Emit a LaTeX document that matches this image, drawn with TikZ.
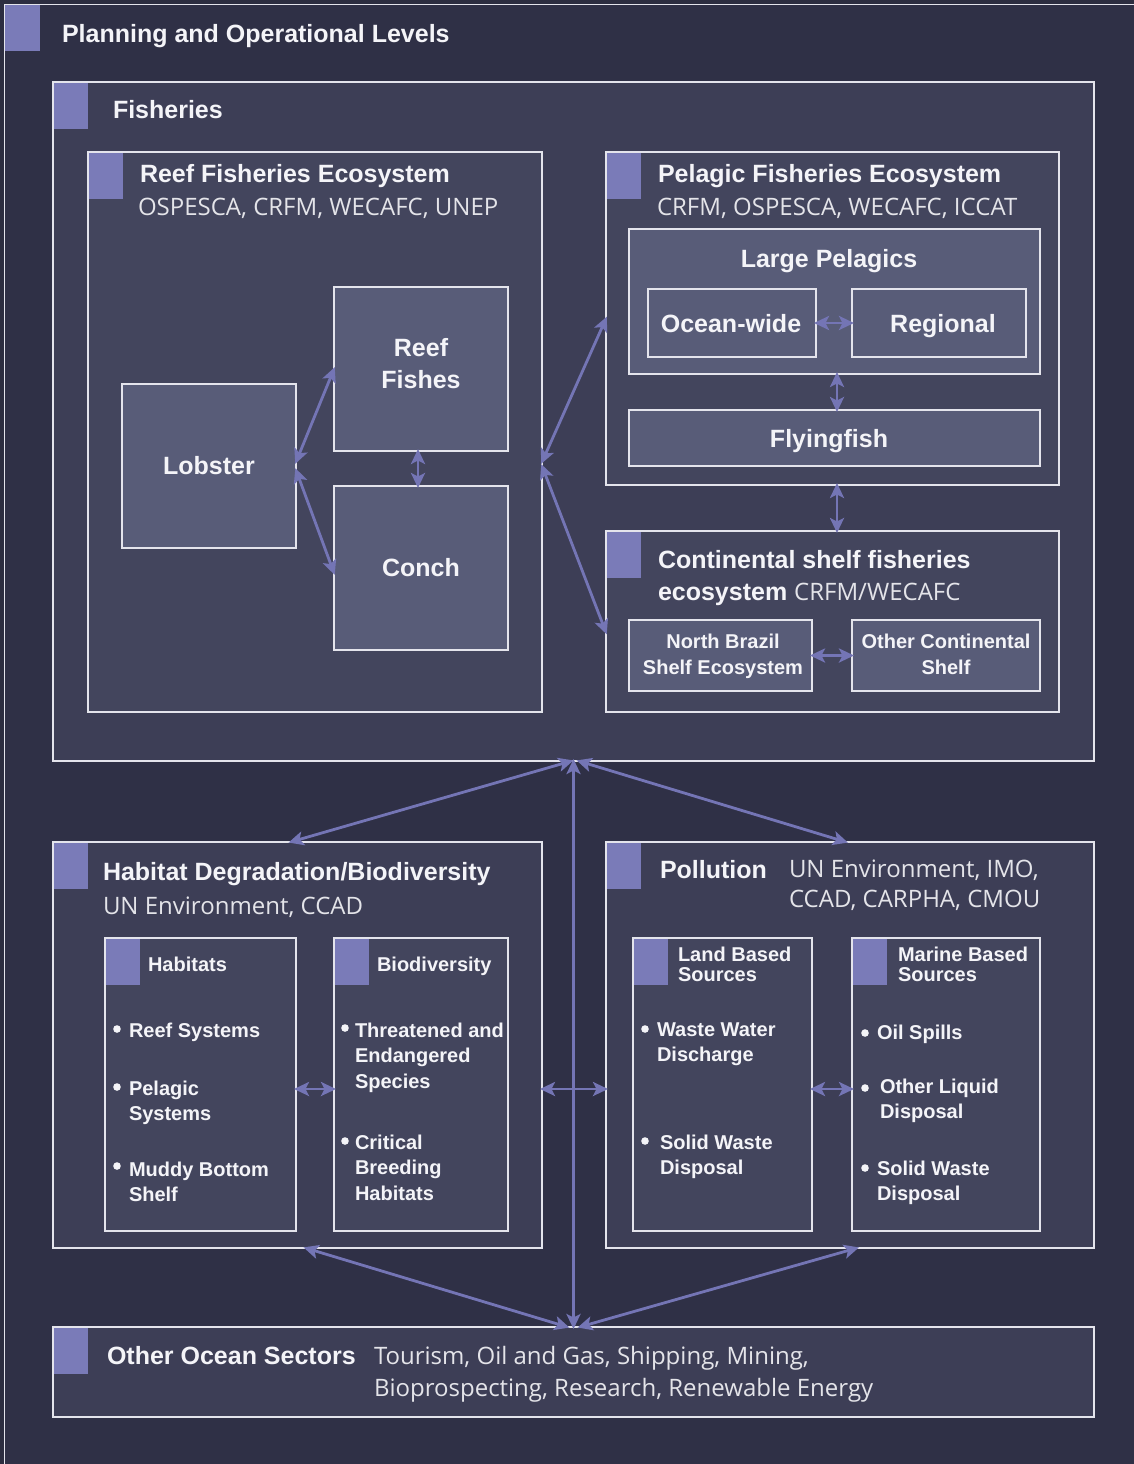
\documentclass[tikz,border=0pt]{standalone}
\usepackage{fontspec}
\setmainfont{Open Sans}
\newfontfamily\tfont{Liberation Sans}
\usetikzlibrary{arrows.meta,calc}
\definecolor{bgc}{HTML}{2C2D40}
\definecolor{frm}{HTML}{2F3046}
\definecolor{fis}{HTML}{3D3E56}
\definecolor{ecoc}{HTML}{43455D}
\definecolor{nodef}{HTML}{585C78}
\definecolor{acc}{HTML}{7A7BB8}
\definecolor{bord}{HTML}{E4E4EC}
\definecolor{arrc}{HTML}{7475B5}
\definecolor{txt}{HTML}{F4F4F8}
\newcommand\bx[6]{\node[#6, minimum width={(#4-#2)*1pt}, minimum height={(#5-#3)*1pt}] (#1) at ({(#2+#4)/2},{(#3+#5)/2}) {};}
\newcommand\accsq[1]{\fill[acc] ([shift={(0.8,0.8)}]#1.north west) rectangle +(34.5,46);}
\tikzset{
  box/.style={draw=bord, line width=1.4pt, inner sep=0pt, outer sep=0pt, rectangle},
  frame/.style={box, fill=frm},
  lvl/.style={box, fill=fis},
  eco/.style={box, fill=ecoc},
  nd/.style={box, fill=nodef},
  ttl/.style={font=\tfont\bfseries\fontsize{25}{32}\selectfont, text=txt, inner sep=0pt, outer sep=0pt},
  sttl/.style={font=\tfont\bfseries\fontsize{20}{25.5}\selectfont, text=txt, inner sep=0pt, outer sep=0pt},
  sub/.style={font=\fontsize{24}{32}\selectfont, text=txt!92!bgc, inner sep=0pt, outer sep=0pt},
  arr/.style={draw=arrc, line width=2.8pt, shorten <=-2pt, shorten >=-2pt, arrows={Stealth[length=15pt,width=14pt,inset=3.5pt]-Stealth[length=15pt,width=14pt,inset=3.5pt]}},
  blt/.style={fill=txt},
}
\begin{document}
\begin{tikzpicture}[x=1pt,y=-1pt]
\useasboundingbox (0,0) rectangle (1134,1464);
\fill[bgc] (0,0) rectangle (1134,1464);
% boxes
\bx{outer}{4.5}{4.5}{1170}{1500}{frame}
\accsq{outer}
\bx{fish}{53}{82}{1094}{761}{lvl}
\accsq{fish}
\bx{reefeco}{88}{152}{542}{712}{eco}
\accsq{reefeco}
\bx{lob}{122}{384}{296}{548}{nd}
\bx{reeff}{334}{287}{508}{451}{nd}
\bx{conch}{334}{486}{508}{650}{nd}
\bx{pel}{606}{152}{1059}{485}{eco}
\accsq{pel}
\bx{large}{629}{229}{1040}{374}{nd}
\bx{ocean}{648}{289}{816}{357}{nd}
\bx{regional}{852}{289}{1026}{357}{nd}
\bx{fly}{629}{410}{1040}{466}{nd}
\bx{cont}{606}{531}{1059}{712}{eco}
\accsq{cont}
\bx{nbr}{629}{620}{812}{691}{nd}
\bx{ocs}{852}{620}{1040}{691}{nd}
\bx{hab}{53}{842}{542}{1248}{lvl}
\accsq{hab}
\bx{habs}{105}{938}{296}{1231}{eco}
\accsq{habs}
\bx{bio}{334}{938}{508}{1231}{eco}
\accsq{bio}
\bx{pol}{606}{842}{1094}{1248}{lvl}
\accsq{pol}
\bx{land}{633}{938}{812}{1231}{eco}
\accsq{land}
\bx{mar}{852}{938}{1040}{1231}{eco}
\accsq{mar}
\bx{oth}{53}{1327}{1094}{1417}{lvl}
\accsq{oth}
% titles
\node[ttl, anchor=base west] (t-plan) at (62,43) {Planning and Operational Levels};
\node[ttl, anchor=base west] (t-fish) at (113,118) {Fisheries};
\node[ttl, anchor=base west] (t-reef) at (140,182) {Reef Fisheries Ecosystem};
\node[sub, anchor=base west] (s-reef) at (138,215) {OSPESCA, CRFM, WECAFC, UNEP};
\node[ttl] (t-lob) at (lob.center) {Lobster};
\node[ttl, align=center, anchor=center] (t-reeff) at (421,364) {Reef\\Fishes};
\node[ttl] (t-conch) at (conch.center) {Conch};
\node[ttl, anchor=base west] (t-pel) at (658,182) {Pelagic Fisheries Ecosystem};
\node[sub, anchor=base west] (s-pel) at (657,215) {CRFM, OSPESCA, WECAFC, ICCAT};
\node[ttl, anchor=base] (t-large) at (829,267) {Large Pelagics};
\node[ttl, anchor=base] (t-ocean) at (731,332) {Ocean-wide};
\node[ttl, anchor=base] (t-reg) at (943,332) {Regional};
\node[ttl, anchor=base] (t-fly) at (829,447) {Flyingfish};
\node[ttl, anchor=base west] (t-cont) at (658,568) {Continental shelf fisheries};
\node[ttl, anchor=base west] (t-cont2) at (658,600) {ecosystem \normalfont\fontsize{24}{32}\selectfont\color{txt!92!bgc}CRFM/WECAFC};
\node[sttl, align=center, anchor=north] (t-nbr) at (723,634.5) {North Brazil\\Shelf Ecosystem};
\node[sttl, align=center, anchor=north] (t-ocs) at (946,634.5) {Other Continental\\Shelf};
% habitat
\node[ttl, anchor=base west] (t-hab) at (103,880) {Habitat Degradation/Biodiversity};
\node[sub, anchor=base west] (s-hab) at (103,914) {UN Environment, CCAD};
\node[sttl, anchor=base west] (t-habs) at (148,971) {Habitats};
\node[sttl, anchor=base west] (t-bio) at (377,971) {Biodiversity};
\fill[blt] (117,1029) circle (3.8);
\node[sttl, anchor=base west] (h1) at (129,1037) {Reef Systems};
\fill[blt] (117,1087) circle (3.8);
\node[sttl, align=left, anchor=north west] (h2) at (129,1080.7) {Pelagic\\Systems};
\fill[blt] (117,1166) circle (3.8);
\node[sttl, align=left, anchor=north west] (h3) at (129,1161.7) {Muddy Bottom\\Shelf};
\fill[blt] (345,1028) circle (3.8);
\node[sttl, align=left, anchor=north west] (b1) at (355,1022.7) {Threatened and\\Endangered\\Species};
\fill[blt] (345,1141) circle (3.8);
\node[sttl, align=left, anchor=north west] (b2) at (355,1134.7) {Critical\\Breeding\\Habitats};
% pollution
\node[ttl, anchor=base west] (t-pol) at (660,878) {Pollution};
\node[sub, align=left, anchor=north west] (s-pol) at (789,860) {UN Environment, IMO,\\[-2pt]CCAD, CARPHA, CMOU};
\node[sttl, align=left, anchor=north west, font=\tfont\bfseries\fontsize{20}{20.5}\selectfont] (t-land) at (678,946.7) {Land Based\\Sources};
\node[sttl, align=left, anchor=north west, font=\tfont\bfseries\fontsize{20}{20.5}\selectfont] (t-mar) at (898,946.7) {Marine Based\\Sources};
\fill[blt] (645,1029) circle (3.8);
\node[sttl, align=left, anchor=north west] (l1) at (657,1022.7) {Waste Water\\Discharge};
\fill[blt] (645,1141) circle (3.8);
\node[sttl, align=left, anchor=north west] (l2) at (660,1134.7) {Solid Waste\\Disposal};
\fill[blt] (865,1033) circle (3.8);
\node[sttl, anchor=base west] (m1) at (877,1039) {Oil Spills};
\fill[blt] (865,1088) circle (3.8);
\node[sttl, align=left, anchor=north west] (m2) at (880,1078.7) {Other Liquid\\Disposal};
\fill[blt] (865,1168) circle (3.8);
\node[sttl, align=left, anchor=north west] (m3) at (877,1160.7) {Solid Waste\\Disposal};
% other
\node[ttl, anchor=base west] (t-oth) at (107,1364) {Other Ocean Sectors};
\node[sub, align=left, anchor=north west] (s-oth) at (374,1346.5) {Tourism, Oil and Gas, Shipping, Mining,\\Bioprospecting, Research, Renewable Energy};
% arrows
\draw[arr] ([yshift=4pt]lob.east) -- (reeff.west);
\draw[arr] ([yshift=-4pt]lob.east) -- ([yshift=-5pt]conch.west);
\draw[arr] ([xshift=-3pt]reeff.south) -- ([xshift=-3pt]conch.north);
\draw[arr] ([yshift=-30pt]reefeco.east) -- (pel.west);
\draw[arr] ([yshift=-34pt]reefeco.east) -- ([yshift=-11pt]cont.west);
\draw[arr] (ocean.east) -- (regional.west);
\draw[arr] ([xshift=2.5pt]large.south) -- ([xshift=2.5pt]fly.north);
\draw[arr] ([xshift=4.5pt]pel.south) -- ([xshift=4.5pt]cont.north);
\draw[arr] (nbr.east) -- (ocs.west);
\draw[arr] ([xshift=-2pt]fish.south) -- ([xshift=-7pt]hab.north);
\draw[arr] ([xshift=5pt]fish.south) -- ([xshift=-4pt]pol.north);
\draw[arr] (fish.south) -- (oth.north);
\draw[arr] ([yshift=-4.5pt]habs.east) -- ([yshift=-4.5pt]bio.west);
\draw[arr] ([yshift=-44pt]hab.east) -- ([yshift=-44pt]pol.west);
\draw[arr] ([yshift=-4.5pt]land.east) -- ([yshift=-4.5pt]mar.west);
\draw[arr] ([xshift=8pt]hab.south) -- ([xshift=-6pt]oth.north);
\draw[arr] ([xshift=7pt]pol.south) -- ([xshift=6pt]oth.north);
\end{tikzpicture}
\end{document}
